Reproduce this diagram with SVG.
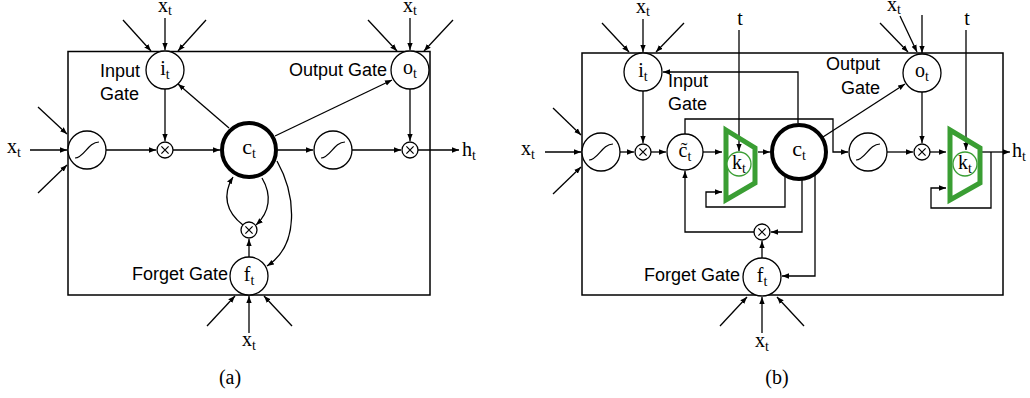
<svg xmlns="http://www.w3.org/2000/svg" width="1030" height="398" viewBox="0 0 1030 398">
<defs>
<marker id="ah" viewBox="0 0 10 10" refX="10" refY="5" markerWidth="7" markerHeight="7" markerUnits="userSpaceOnUse" orient="auto"><path d="M0,1.2 L10,5 L0,8.8 z" fill="#000"/></marker>
<g id="sig"><circle r="19" class="n"/><path d="M-12,8 C-3,8 1,-8 12,-8" fill="none" stroke="#000" stroke-width="1.2"/></g>
<g id="mul"><circle r="8" class="n"/><path d="M-3.6,-3.6 L3.6,3.6 M-3.6,3.6 L3.6,-3.6" stroke="#000" stroke-width="1.2"/></g>
</defs>
<style>
.n{fill:#fff;stroke:#000;stroke-width:1.3}
.c{fill:#fff;stroke:#000;stroke-width:4}
.box{fill:none;stroke:#000;stroke-width:1.5}
.l{fill:none;stroke:#000;stroke-width:1.3}
.a{fill:none;stroke:#000;stroke-width:1.3;marker-end:url(#ah)}
.m{font-family:"Liberation Serif","DejaVu Serif",serif;font-size:20px;fill:#000}
.s{font-size:14px}
.t{font-family:"Liberation Sans",Arial,sans-serif;font-size:18px;fill:#000}
.tr{fill:none;stroke:#3a9e33;stroke-width:5;stroke-linejoin:miter}
.kc{fill:#fff;stroke:#3a9e33;stroke-width:1.3}
</style>
<rect width="1030" height="398" fill="#fff"/>

<!-- ================= (a) ================= -->
<rect class="box" x="68" y="51.5" width="362" height="243.5"/>
<g id="a-connectors">
<path class="a" d="M165,18 L165,50"/>
<path class="a" d="M123,20 L151,51"/>
<path class="a" d="M206,20 L178,51"/>
<path class="a" d="M410,18 L410,50"/>
<path class="a" d="M368,20 L397,51"/>
<path class="a" d="M453,20 L424,51"/>
<path class="a" d="M30,150 L67,150"/>
<path class="a" d="M38,107 L67,134"/>
<path class="a" d="M38,193 L67,165"/>
<path class="a" d="M106,150 L156,150"/>
<path class="a" d="M165,89 L165,141"/>
<path class="a" d="M173,150 L220,150"/>
<path class="a" d="M229,128 L178,84"/>
<path class="a" d="M275,136 L392,80"/>
<path class="a" d="M278,150 L313,150"/>
<path class="a" d="M352,150 L401,150"/>
<path class="a" d="M410,89 L410,141"/>
<path class="a" d="M418,150 L459,150"/>
<path class="a" d="M249,257 L249,239"/>
<path class="a" d="M243,225 C226,212 222,195 233,177"/>
<path class="a" d="M262,178 C272,195 270,212 256,225"/>
<path class="a" d="M277,161 C296,195 300,245 267,266"/>
<path class="a" d="M249,333 L249,296"/>
<path class="a" d="M207,326 L235,296"/>
<path class="a" d="M292,326 L264,296"/>
</g>
<g id="a-sig1"><use href="#sig" x="87" y="150"/></g>
<g id="a-mul1"><use href="#mul" x="165" y="150"/></g>
<g id="a-sig2"><use href="#sig" x="333" y="150"/></g>
<g id="a-mul2"><use href="#mul" x="410" y="150"/></g>
<g id="a-mul3"><use href="#mul" x="249" y="230"/></g>
<g id="a-it"><circle class="n" cx="165" cy="70" r="19"/><text class="m" x="165" y="75" text-anchor="middle">i<tspan class="s" dy="4">t</tspan></text></g>
<g id="a-ot"><circle class="n" cx="410" cy="70" r="19"/><text class="m" x="410" y="74" text-anchor="middle">o<tspan class="s" dy="4">t</tspan></text></g>
<g id="a-ct"><circle class="c" cx="249" cy="150" r="27"/><text class="m" x="249" y="154" text-anchor="middle" style="font-size:22px">c<tspan class="s" dy="4">t</tspan></text></g>
<g id="a-ft"><circle class="n" cx="249" cy="276" r="19"/><text class="m" x="249" y="281" text-anchor="middle">f<tspan class="s" dy="4">t</tspan></text></g>
<g id="a-labels">
<text class="t" x="100" y="77">Input</text>
<text class="t" x="100" y="100">Gate</text>
<text class="t" x="387" y="76" text-anchor="end">Output Gate</text>
<text class="t" x="228" y="280" text-anchor="end">Forget Gate</text>
<text class="m" x="165" y="12" text-anchor="middle">x<tspan class="s" dy="3">t</tspan></text>
<text class="m" x="410" y="12" text-anchor="middle">x<tspan class="s" dy="3">t</tspan></text>
<text class="m" x="7" y="153">x<tspan class="s" dy="4">t</tspan></text>
<text class="m" x="462" y="156">h<tspan class="s" dy="4">t</tspan></text>
<text class="m" x="249" y="346" text-anchor="middle">x<tspan class="s" dy="4">t</tspan></text>
<text class="m" x="230" y="384" text-anchor="middle">(a)</text>
</g>

<!-- ================= (b) ================= -->
<rect class="box" x="582" y="53" width="421" height="242"/>
<g id="b-connectors">
<path class="a" d="M643,19 L643,52"/>
<path class="a" d="M602,23 L629,52"/>
<path class="a" d="M684,23 L656,52"/>
<path class="a" d="M900,16 L917,52"/>
<path class="a" d="M880,23 L908,52"/>
<path class="a" d="M922,15 L922,53"/>
<path class="a" d="M545,152 L581,152"/>
<path class="a" d="M553,108 L581,135"/>
<path class="a" d="M553,194 L581,167"/>
<path class="a" d="M620,152 L634,152"/>
<path class="a" d="M643,91 L643,143"/>
<path class="a" d="M651,152 L666,152"/>
<path class="a" d="M703,152 L722,152"/>
<path class="a" d="M739,30 L739,151"/>
<path class="a" d="M758,152 L770,152"/>
<path class="a" d="M798,123 L798,72 L663,72"/>
<path class="a" d="M685,134 L685,119 L833,119 L833,152 L848,152"/>
<path class="a" d="M785,176 L785,207 L706,207 L706,192 L722,192"/>
<path class="a" d="M802,179 L802,232 L771,232"/>
<path class="a" d="M754,232 L685,232 L685,171"/>
<path class="a" d="M815,175 L815,276 L782,276"/>
<path class="a" d="M762,258 L762,241"/>
<path class="a" d="M823,137 L905,84"/>
<path class="a" d="M887,152 L913,152"/>
<path class="a" d="M922,92 L922,143"/>
<path class="a" d="M930,152 L946,152"/>
<path class="a" d="M966,30 L966,150"/>
<path class="a" d="M982,152 L1010,152"/>
<path class="a" d="M991,152 L991,208 L931,208 L931,188 L946,188"/>
<path class="a" d="M762,333 L762,297"/>
<path class="a" d="M720,326 L747,297"/>
<path class="a" d="M804,326 L777,297"/>
</g>
<g id="b-sig1"><use href="#sig" x="601" y="152"/></g>
<g id="b-mul1"><use href="#mul" x="643" y="152"/></g>
<g id="b-ctil"><circle class="n" cx="685" cy="152" r="18"/><text class="m" x="685" y="157" text-anchor="middle">c&#771;<tspan class="s" dy="4">t</tspan></text></g>
<g id="b-k1"><path class="tr" d="M726,130 L755,148 L755,183 L726,200 Z"/><circle class="kc" cx="739" cy="164" r="12"/><text class="m" x="739" y="169" text-anchor="middle">k<tspan class="s" dy="4">t</tspan></text></g>
<g id="b-ct"><circle class="c" cx="799" cy="152" r="27"/><text class="m" x="799" y="156" text-anchor="middle" style="font-size:22px">c<tspan class="s" dy="4">t</tspan></text></g>
<g id="b-mul3"><use href="#mul" x="762" y="232"/></g>
<g id="b-sig2"><use href="#sig" x="868" y="152"/></g>
<g id="b-mul2"><use href="#mul" x="922" y="152"/></g>
<g id="b-k2"><path class="tr" d="M950,130 L980,148 L980,183 L950,200 Z"/><circle class="kc" cx="965" cy="164" r="12"/><text class="m" x="965" y="169" text-anchor="middle">k<tspan class="s" dy="4">t</tspan></text></g>
<g id="b-it"><circle class="n" cx="643" cy="72" r="19"/><text class="m" x="643" y="77" text-anchor="middle">i<tspan class="s" dy="4">t</tspan></text></g>
<g id="b-ot"><circle class="n" cx="922" cy="73" r="19"/><text class="m" x="922" y="77" text-anchor="middle">o<tspan class="s" dy="4">t</tspan></text></g>
<g id="b-ft"><circle class="n" cx="762" cy="277" r="19"/><text class="m" x="762" y="282" text-anchor="middle">f<tspan class="s" dy="4">t</tspan></text></g>
<g id="b-labels">
<text class="t" x="668" y="87">Input</text>
<text class="t" x="668" y="110">Gate</text>
<text class="t" x="880" y="70" text-anchor="end">Output</text>
<text class="t" x="880" y="94" text-anchor="end">Gate</text>
<text class="t" x="740" y="281" text-anchor="end">Forget Gate</text>
<text class="m" x="643" y="13" text-anchor="middle">x<tspan class="s" dy="3">t</tspan></text>
<text class="m" x="894" y="11" text-anchor="middle">x<tspan class="s" dy="3">t</tspan></text>
<text class="m" x="740" y="25" text-anchor="middle">t</text>
<text class="m" x="967" y="25" text-anchor="middle">t</text>
<text class="m" x="521" y="155">x<tspan class="s" dy="4">t</tspan></text>
<text class="m" x="1012" y="157">h<tspan class="s" dy="4">t</tspan></text>
<text class="m" x="762" y="347" text-anchor="middle">x<tspan class="s" dy="4">t</tspan></text>
<text class="m" x="777" y="384" text-anchor="middle">(b)</text>
</g>
</svg>
